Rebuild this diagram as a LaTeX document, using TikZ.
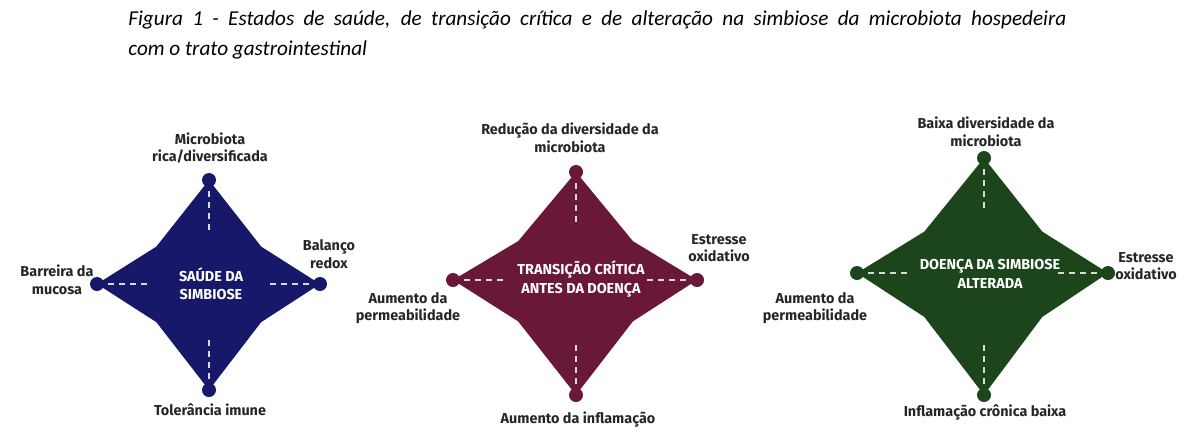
\documentclass[tikz,border=0pt]{standalone}
\usepackage{fontspec}
\setmainfont{Fira Sans}
\newfontfamily\titlefont{Carlito}
\definecolor{navy}{HTML}{18186A}
\definecolor{wine}{HTML}{6A1838}
\definecolor{forest}{HTML}{1C451C}
\tikzset{
 lbl/.style={font=\fontsize{7.2pt}{8.8pt}\selectfont\bfseries\color{black!85}, align=center, inner sep=1pt},
 ctr/.style={font=\fontsize{7.2pt}{9.2pt}\selectfont\bfseries\color{white}, align=center},
 dashln/.style={draw=white!70!gray, dash pattern=on 3pt off 2.5pt, line width=0.7pt},
}
\newcommand\mkstar[8]{% name, cx, cy, top dy, bottom dy, left dx, right dx, color
 \coordinate (#1c) at (#2,#3);
 \coordinate (#1t) at (#2,#3-#4);
 \coordinate (#1b) at (#2,#3+#5);
 \coordinate (#1l) at (#2-#6,#3);
 \coordinate (#1r) at (#2+#7,#3);
 \fill[#8] (#1t) -- (#2+0.47*#7,#3-0.36*#4) -- (#1r) -- (#2+0.47*#7,#3+0.36*#5) -- (#1b) -- (#2-0.47*#6,#3+0.36*#5) -- (#1l) -- (#2-0.47*#6,#3-0.36*#4) -- cycle;
 \draw[dashln] (#1t) -- ++(0,54); \draw[dashln] (#1b) -- ++(0,-54);
 \draw[dashln] (#1l) -- ++(54,0); \draw[dashln] (#1r) -- ++(-54,0);
 \foreach \p in {t,b,l,r} \fill[#8] (#1\p) circle (7);
}
\begin{document}
\begin{tikzpicture}[x=0.5pt,y=-0.5pt]
\useasboundingbox (0,0) rectangle (1200,440);
\node[anchor=north west, align=left, inner sep=0pt, font=\titlefont\itshape\fontsize{10.6pt}{15pt}\selectfont] (title) at (128,10)
 {\makebox[469pt][s]{Figura 1 - Estados de saúde, de transição crítica e de alteração na simbiose da microbiota hospedeira}\\com o trato gastrointestinal};
% star 1
\mkstar{a}{209}{284}{104}{106}{112}{111}{navy}
\node[ctr] (actr) at (211,284) {SAÚDE DA\\SIMBIOSE};
\node[lbl,anchor=south] (atop) at (210,166) {Microbiota\\rica/diversificada};
\node[lbl,anchor=north] (abot) at (210,401) {Tolerância imune};
\node[lbl] (alft) at (57,280) {Barreira da\\mucosa};
\node[lbl] (argt) at (329,254) {Balanço\\redox};
% star 2
\mkstar{b}{576}{280}{108}{115}{123}{121}{wine}
\node[ctr] (bctr) at (581,279) {TRANSIÇÃO CRÍTICA\\ANTES DA DOENÇA};
\node[lbl,anchor=south] (btop) at (570,155) {Redução da diversidade da\\microbiota};
\node[lbl,anchor=north] (bbot) at (578,409) {Aumento da inflamação};
\node[lbl] (blft) at (408,308) {Aumento da\\permeabilidade};
\node[lbl] (brgt) at (719,248) {Estresse\\oxidativo};
% star 3
\mkstar{c}{984}{273}{115}{122}{127}{124}{forest}
\node[ctr] (cctr) at (990,274) {DOENÇA DA SIMBIOSE\\ALTERADA};
\node[lbl,anchor=south] (ctop) at (986,149) {Baixa diversidade da\\microbiota};
\node[lbl,anchor=north] (cbot) at (985,402) {Inflamação crônica baixa};
\node[lbl] (clft) at (815,308) {Aumento da\\permeabilidade};
\node[lbl] (crgt) at (1146,266) {Estresse\\oxidativo};
\end{tikzpicture}
\end{document}
